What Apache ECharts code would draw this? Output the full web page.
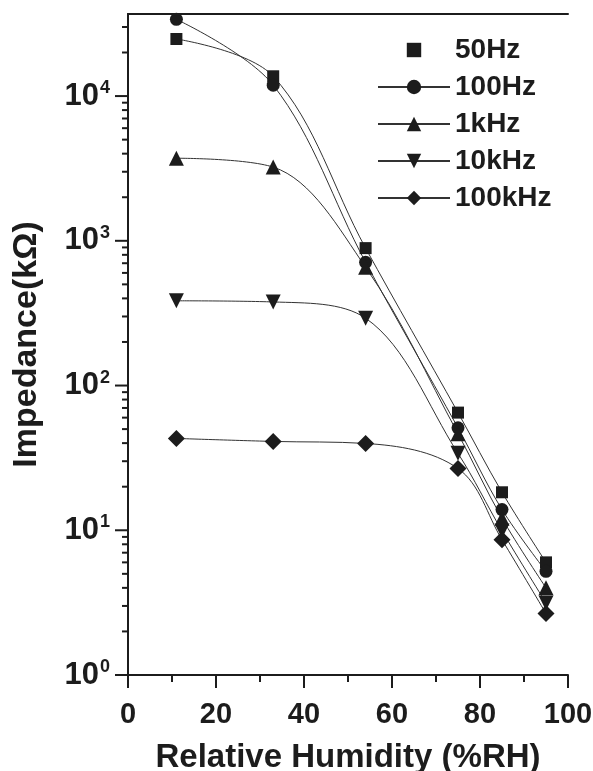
<!DOCTYPE html>
<html>
<head>
<meta charset="utf-8">
<style>
  html, body { margin: 0; padding: 0; background: #fff; }
  #chart { width: 593px; height: 771px; }
</style>
<script src="https://cdn.jsdelivr.net/npm/echarts@6/dist/echarts.min.js"></script>
</head>
<body>
<div id="chart"></div>
<script>
// relative humidity (%RH)
var humidity = [11, 33, 54, 75, 85, 95];

// impedance (kOhm) for each frequency
var z50Hz   = [24800, 13700, 890, 65, 18.3, 6.0];
var z100Hz  = [33900, 11900, 710, 51, 13.9, 5.2];
var z1kHz   = [3720, 3230, 657, 46.5, 12.1, 4.0];
var z10kHz  = [385, 378, 292, 34, 9.9, 3.15];
var z100kHz = [43.1, 41.1, 39.8, 26.7, 8.6, 2.66];

var seriesNames = ['50Hz', '100Hz', '1kHz', '10kHz', '100kHz'];
var xTicks = [0, 20, 40, 60, 80, 100];
var yDecades = [0, 1, 2, 3, 4];

var ink = '#1c1c1c';
var yMax = 36900;

function pairs(vals){
  return humidity.map(function(h, i){ return [h, vals[i]]; });
}

// log ticks, drawn by hand (major at 10^n, minor at 2..9 x 10^n)
var yTickData = [];
yDecades.forEach(function(d){
  for (var k = 1; k <= 9; k++) {
    var v = k * Math.pow(10, d);
    if (v <= yMax) yTickData.push([0, v, k === 1 ? 13 : 6]);
  }
});

function curve(name, vals, symbol, size, rotate, lineOpacity){
  return {
    name: name,
    type: 'line',
    data: pairs(vals),
    smooth: 0.35,
    symbol: symbol,
    symbolSize: size,
    symbolRotate: rotate || 0,
    itemStyle: { color: ink, opacity: 1 },
    lineStyle: { color: '#333', width: 1, opacity: lineOpacity === undefined ? 1 : lineOpacity },
    z: 3
  };
}

// only draws the frame on top / right
function frameAxis(pos, type){
  return {
    type: type, position: pos,
    min: type === 'log' ? 1 : 0, max: type === 'log' ? yMax : 100,
    axisLine: { show: true, lineStyle: { color: ink, width: 2 } },
    axisTick: { show: false }, axisLabel: { show: false }, splitLine: { show: false }
  };
}

var option = {
  animation: false,
  backgroundColor: '#fff',
  textStyle: { fontFamily: 'Liberation Sans, Arial, sans-serif' },
  grid: { left: 128, right: 25, top: 14, bottom: 96, outerBoundsMode: 'none', containLabel: false },
  legend: {
    data: seriesNames,
    orient: 'vertical',
    left: 372, top: 31,
    itemWidth: 72, itemHeight: 18,
    itemGap: 9,
    textStyle: { fontSize: 28, fontWeight: 'bold', color: ink }
  },
  xAxis: [{
    type: 'value',
    min: 0, max: 100, interval: 20,
    name: 'Relative Humidity (%RH)',
    nameLocation: 'middle',
    nameGap: 66,
    nameTextStyle: { fontSize: 33, fontWeight: 'bold', color: ink },
    axisLine: { lineStyle: { color: ink, width: 2 } },
    axisTick: { show: true, inside: false, length: 13, lineStyle: { color: ink, width: 2 } },
    minorTick: { show: true, splitNumber: 2, length: 7, lineStyle: { color: ink, width: 2 } },
    axisLabel: { fontSize: 29, fontWeight: 'bold', color: ink, margin: 25 },
    splitLine: { show: false }
  }, frameAxis('top', 'value')],
  yAxis: [{
    type: 'log',
    logBase: 10,
    min: 1, max: yMax,
    name: 'Impedance(kΩ)',
    nameLocation: 'middle',
    nameGap: 84,
    nameTextStyle: { fontSize: 34, fontWeight: 'bold', color: ink },
    axisLine: { lineStyle: { color: ink, width: 2 } },
    axisTick: { show: false },
    axisLabel: {
      margin: 18,
      formatter: function(v){
        var e = Math.round(Math.log(v) / Math.LN10);
        if (Math.abs(Math.pow(10, e) - v) > 1e-6 * v) return '';
        return '{b|10}{s|' + e + '}';
      },
      rich: {
        b: { fontSize: 31, fontWeight: 'bold', color: ink },
        s: { fontSize: 18, fontWeight: 'bold', color: ink, padding: [0, 0, 16, 1] }
      }
    },
    splitLine: { show: false }
  }, frameAxis('right', 'log')],
  series: [
    // 50Hz: symbols only in the legend, its curve comes from the fit below
    curve('50Hz', z50Hz, 'rect', 12, 0, 0),
    curve('50Hz fit', z50Hz, 'none', 0),
    curve('100Hz', z100Hz, 'circle', 13),
    curve('1kHz', z1kHz, 'triangle', 15),
    curve('10kHz', z10kHz, 'triangle', 15, 180),
    curve('100kHz', z100kHz, 'diamond', 17),
    {
      name: 'yticks',
      type: 'custom',
      clip: false,
      silent: true,
      data: yTickData,
      renderItem: function(params, api){
        var p = api.coord([api.value(0), api.value(1)]);
        var len = api.value(2);
        return {
          type: 'line',
          shape: { x1: p[0] - len, y1: p[1], x2: p[0], y2: p[1] },
          style: { stroke: ink, lineWidth: 2 }
        };
      },
      z: 5
    }
  ]
};

var myChart = echarts.init(document.getElementById('chart'));
myChart.setOption(option);
</script>
</body>
</html>
